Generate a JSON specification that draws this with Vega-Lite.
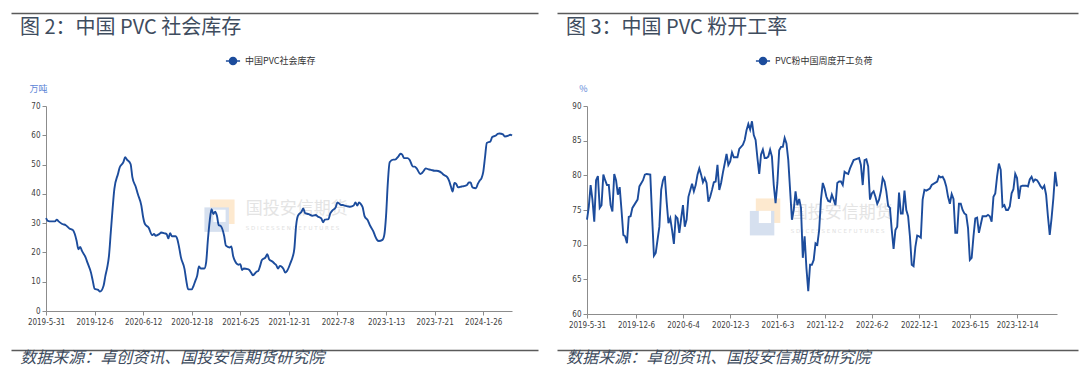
{
  "$schema": "https://vega.github.io/schema/vega-lite/v6.json",
  "padding": {"left": 8, "top": 10, "right": 0, "bottom": 0},
  "background": "white",
  "config": {
    "view": {"stroke": null},
    "font": "Noto Sans CJK SC",
    "axis": {"labelFont": "Liberation Sans Narrow, DejaVu Sans Condensed, sans-serif", "labelFontSize": 8, "labelColor": "#404040", "domainColor": "#8c8c8c", "tickColor": "#8c8c8c", "grid": false, "labelOverlap": false}
  },
  "resolve": {"scale": {"x": "independent", "y": "independent", "color": "independent"}, "legend": {"color": "independent"}, "axis": {"x": "independent", "y": "independent"}},
  "datasets": {
    "left": [
      {"d":"2019-05-31","v":31.7},{"d":"2019-06-07","v":30.8},{"d":"2019-06-21","v":30.6},{"d":"2019-07-05","v":30.6},{"d":"2019-07-12","v":31.2},{"d":"2019-07-19","v":30.6},{"d":"2019-08-02","v":29.7},{"d":"2019-08-16","v":29.3},{"d":"2019-08-30","v":28.2},{"d":"2019-09-13","v":27.6},{"d":"2019-09-20","v":26.3},{"d":"2019-09-27","v":24.0},{"d":"2019-10-04","v":21.1},{"d":"2019-10-11","v":21.9},{"d":"2019-10-18","v":20.5},{"d":"2019-11-01","v":18.3},{"d":"2019-11-08","v":16.6},{"d":"2019-11-22","v":13.1},{"d":"2019-11-29","v":10.3},{"d":"2019-12-06","v":7.6},{"d":"2019-12-20","v":7.2},{"d":"2019-12-27","v":6.6},
      {"d":"2020-01-10","v":8.6},{"d":"2020-01-17","v":12.0},{"d":"2020-01-24","v":14.8},{"d":"2020-01-31","v":18.8},{"d":"2020-02-07","v":26.8},{"d":"2020-02-14","v":34.8},{"d":"2020-02-21","v":41.7},{"d":"2020-03-06","v":46.8},{"d":"2020-03-13","v":49.1},{"d":"2020-03-27","v":50.8},{"d":"2020-04-03","v":52.5},{"d":"2020-04-10","v":51.7},{"d":"2020-04-24","v":50.2},{"d":"2020-05-01","v":45.7},{"d":"2020-05-15","v":42.2},{"d":"2020-05-22","v":40.0},{"d":"2020-06-05","v":36.0},{"d":"2020-06-12","v":32.0},{"d":"2020-06-19","v":29.7},{"d":"2020-07-03","v":28.5},{"d":"2020-07-17","v":25.9},{"d":"2020-07-24","v":26.3},{"d":"2020-07-31","v":25.7},{"d":"2020-08-14","v":26.3},{"d":"2020-08-21","v":26.8},{"d":"2020-09-04","v":26.5},{"d":"2020-09-11","v":26.3},{"d":"2020-09-18","v":24.8},{"d":"2020-09-25","v":26.6},{"d":"2020-10-02","v":25.5},{"d":"2020-10-16","v":25.5},{"d":"2020-10-23","v":24.5},{"d":"2020-10-30","v":21.7},{"d":"2020-11-06","v":18.3},{"d":"2020-11-20","v":14.3},{"d":"2020-11-27","v":10.3},{"d":"2020-12-04","v":7.4},{"d":"2020-12-18","v":7.4},{"d":"2020-12-25","v":8.6},
      {"d":"2021-01-01","v":10.3},{"d":"2021-01-08","v":12.0},{"d":"2021-01-15","v":15.2},{"d":"2021-01-22","v":14.5},{"d":"2021-02-05","v":14.5},{"d":"2021-02-12","v":16.6},{"d":"2021-02-19","v":24.5},{"d":"2021-02-26","v":30.8},{"d":"2021-03-05","v":34.8},{"d":"2021-03-12","v":33.1},{"d":"2021-03-19","v":33.9},{"d":"2021-03-26","v":32.5},{"d":"2021-04-02","v":29.3},{"d":"2021-04-09","v":29.1},{"d":"2021-04-23","v":25.7},{"d":"2021-04-30","v":22.3},{"d":"2021-05-14","v":21.7},{"d":"2021-05-21","v":22.0},{"d":"2021-05-28","v":18.8},{"d":"2021-06-04","v":17.1},{"d":"2021-06-18","v":15.8},{"d":"2021-06-25","v":16.0},{"d":"2021-07-02","v":14.0},{"d":"2021-07-09","v":14.5},{"d":"2021-07-23","v":14.3},{"d":"2021-07-30","v":14.0},{"d":"2021-08-06","v":13.1},{"d":"2021-08-13","v":12.2},{"d":"2021-08-27","v":13.4},{"d":"2021-09-03","v":13.7},{"d":"2021-09-10","v":15.4},{"d":"2021-09-17","v":17.4},{"d":"2021-10-01","v":18.3},{"d":"2021-10-08","v":19.4},{"d":"2021-10-15","v":17.7},{"d":"2021-10-29","v":16.8},{"d":"2021-11-05","v":16.2},{"d":"2021-11-12","v":15.6},{"d":"2021-11-19","v":14.5},{"d":"2021-11-26","v":15.4},{"d":"2021-12-03","v":15.1},{"d":"2021-12-10","v":14.3},{"d":"2021-12-17","v":13.1},{"d":"2021-12-24","v":13.7},
      {"d":"2022-01-07","v":16.6},{"d":"2022-01-14","v":18.3},{"d":"2022-01-21","v":21.1},{"d":"2022-01-28","v":29.1},{"d":"2022-02-04","v":32.5},{"d":"2022-02-18","v":33.9},{"d":"2022-02-25","v":35.0},{"d":"2022-03-04","v":33.4},{"d":"2022-03-18","v":33.1},{"d":"2022-04-01","v":32.5},{"d":"2022-04-15","v":32.8},{"d":"2022-04-22","v":32.3},{"d":"2022-05-06","v":31.6},{"d":"2022-05-13","v":30.3},{"d":"2022-05-20","v":31.2},{"d":"2022-06-03","v":31.4},{"d":"2022-06-10","v":33.3},{"d":"2022-06-17","v":34.2},{"d":"2022-07-01","v":35.4},{"d":"2022-07-08","v":37.1},{"d":"2022-07-22","v":36.2},{"d":"2022-07-29","v":36.2},{"d":"2022-08-05","v":36.0},{"d":"2022-08-19","v":35.7},{"d":"2022-08-26","v":35.6},{"d":"2022-09-09","v":36.0},{"d":"2022-09-16","v":37.1},{"d":"2022-09-23","v":36.0},{"d":"2022-09-30","v":37.1},{"d":"2022-10-07","v":36.5},{"d":"2022-10-14","v":35.4},{"d":"2022-10-21","v":32.5},{"d":"2022-11-04","v":30.8},{"d":"2022-11-11","v":29.3},{"d":"2022-11-25","v":27.1},{"d":"2022-12-02","v":25.5},{"d":"2022-12-09","v":24.3},{"d":"2022-12-16","v":23.9},{"d":"2022-12-30","v":24.3},
      {"d":"2023-01-06","v":25.9},{"d":"2023-01-13","v":32.5},{"d":"2023-01-20","v":43.9},{"d":"2023-01-27","v":50.8},{"d":"2023-02-10","v":51.7},{"d":"2023-02-17","v":51.7},{"d":"2023-03-03","v":52.9},{"d":"2023-03-10","v":53.7},{"d":"2023-03-17","v":53.4},{"d":"2023-03-24","v":52.2},{"d":"2023-04-07","v":52.2},{"d":"2023-04-14","v":51.7},{"d":"2023-04-28","v":49.3},{"d":"2023-05-05","v":49.3},{"d":"2023-05-12","v":48.7},{"d":"2023-05-26","v":46.8},{"d":"2023-06-02","v":47.1},{"d":"2023-06-09","v":47.9},{"d":"2023-06-16","v":48.7},{"d":"2023-06-30","v":48.3},{"d":"2023-07-07","v":48.2},{"d":"2023-07-21","v":47.9},{"d":"2023-07-28","v":47.9},{"d":"2023-08-04","v":47.8},{"d":"2023-08-18","v":47.1},{"d":"2023-08-25","v":46.5},{"d":"2023-09-08","v":45.7},{"d":"2023-09-15","v":44.5},{"d":"2023-09-22","v":42.6},{"d":"2023-09-29","v":40.8},{"d":"2023-10-06","v":43.7},{"d":"2023-10-13","v":43.4},{"d":"2023-10-20","v":42.2},{"d":"2023-11-03","v":42.5},{"d":"2023-11-10","v":42.6},{"d":"2023-11-24","v":43.0},{"d":"2023-12-01","v":43.9},{"d":"2023-12-08","v":43.9},{"d":"2023-12-15","v":42.2},{"d":"2023-12-29","v":41.9},
      {"d":"2024-01-05","v":43.4},{"d":"2024-01-12","v":44.5},{"d":"2024-01-19","v":45.3},{"d":"2024-01-26","v":47.4},{"d":"2024-02-02","v":52.5},{"d":"2024-02-09","v":57.4},{"d":"2024-02-23","v":57.9},{"d":"2024-03-01","v":59.4},{"d":"2024-03-15","v":59.9},{"d":"2024-03-22","v":60.5},{"d":"2024-03-29","v":60.6},{"d":"2024-04-12","v":60.3},{"d":"2024-04-19","v":59.6},{"d":"2024-05-03","v":59.9},{"d":"2024-05-10","v":60.2},{"d":"2024-05-17","v":59.9}
    ],
    "right": [
      {"d":"2019-05-31","v":73.6},{"d":"2019-06-07","v":75.5},{"d":"2019-06-14","v":78.6},{"d":"2019-06-21","v":76.5},{"d":"2019-06-28","v":73.3},{"d":"2019-07-05","v":79.3},{"d":"2019-07-12","v":79.9},{"d":"2019-07-19","v":75.3},{"d":"2019-07-26","v":75.7},{"d":"2019-08-02","v":80.1},{"d":"2019-08-09","v":79.3},{"d":"2019-08-16","v":78.6},{"d":"2019-08-23","v":78.6},{"d":"2019-08-30","v":75.7},{"d":"2019-09-06","v":74.8},{"d":"2019-09-13","v":80.2},{"d":"2019-09-20","v":79.3},{"d":"2019-09-27","v":77.2},{"d":"2019-10-04","v":78.3},{"d":"2019-10-11","v":75.0},{"d":"2019-10-18","v":71.4},{"d":"2019-10-25","v":71.2},{"d":"2019-11-01","v":70.2},{"d":"2019-11-08","v":74.0},{"d":"2019-11-15","v":74.1},{"d":"2019-11-22","v":75.3},{"d":"2019-12-12","v":76.5},{"d":"2019-12-19","v":78.4},
      {"d":"2020-01-02","v":79.3},{"d":"2020-01-09","v":80.1},{"d":"2020-01-16","v":80.2},{"d":"2020-01-30","v":80.1},{"d":"2020-02-06","v":74.1},{"d":"2020-02-13","v":68.4},{"d":"2020-02-20","v":68.8},{"d":"2020-03-05","v":72.6},{"d":"2020-03-12","v":77.9},{"d":"2020-03-19","v":79.3},{"d":"2020-03-26","v":79.9},{"d":"2020-04-02","v":76.2},{"d":"2020-04-09","v":73.1},{"d":"2020-04-16","v":73.8},{"d":"2020-04-23","v":72.1},{"d":"2020-04-30","v":70.1},{"d":"2020-05-07","v":74.1},{"d":"2020-05-14","v":73.8},{"d":"2020-05-21","v":71.7},{"d":"2020-05-28","v":73.8},{"d":"2020-06-04","v":75.7},{"d":"2020-06-11","v":72.6},{"d":"2020-06-18","v":73.6},{"d":"2020-06-25","v":76.9},{"d":"2020-07-09","v":78.8},{"d":"2020-07-16","v":77.7},{"d":"2020-07-23","v":78.6},{"d":"2020-07-30","v":80.1},{"d":"2020-08-06","v":81.0},{"d":"2020-08-13","v":80.1},{"d":"2020-08-20","v":79.0},{"d":"2020-08-27","v":79.6},{"d":"2020-09-03","v":78.9},{"d":"2020-09-10","v":76.2},{"d":"2020-09-17","v":76.9},{"d":"2020-09-24","v":77.9},{"d":"2020-10-01","v":79.0},{"d":"2020-10-08","v":79.1},{"d":"2020-10-15","v":81.5},{"d":"2020-10-22","v":77.9},{"d":"2020-10-29","v":78.9},{"d":"2020-11-05","v":80.4},{"d":"2020-11-12","v":81.7},{"d":"2020-11-19","v":83.1},{"d":"2020-11-26","v":81.5},{"d":"2020-12-03","v":82.0},{"d":"2020-12-10","v":83.3},{"d":"2020-12-17","v":82.6},{"d":"2020-12-24","v":82.6},{"d":"2020-12-31","v":82.6},
      {"d":"2021-01-07","v":83.8},{"d":"2021-01-21","v":84.4},{"d":"2021-01-28","v":85.1},{"d":"2021-02-04","v":86.5},{"d":"2021-02-11","v":87.4},{"d":"2021-02-18","v":86.6},{"d":"2021-02-25","v":87.8},{"d":"2021-03-04","v":85.8},{"d":"2021-03-11","v":85.1},{"d":"2021-03-18","v":82.5},{"d":"2021-03-25","v":80.2},{"d":"2021-04-01","v":83.0},{"d":"2021-04-08","v":83.7},{"d":"2021-04-15","v":82.5},{"d":"2021-04-22","v":82.5},{"d":"2021-04-29","v":82.7},{"d":"2021-05-06","v":83.7},{"d":"2021-05-13","v":82.7},{"d":"2021-05-20","v":78.6},{"d":"2021-05-27","v":76.0},{"d":"2021-06-03","v":78.9},{"d":"2021-06-10","v":83.6},{"d":"2021-06-17","v":84.1},{"d":"2021-06-24","v":84.1},{"d":"2021-07-01","v":85.4},{"d":"2021-07-08","v":84.6},{"d":"2021-07-15","v":82.2},{"d":"2021-07-22","v":77.9},{"d":"2021-07-29","v":73.6},{"d":"2021-08-05","v":75.0},{"d":"2021-08-12","v":77.7},{"d":"2021-08-19","v":75.7},{"d":"2021-08-26","v":76.6},{"d":"2021-09-02","v":75.3},{"d":"2021-09-09","v":68.1},{"d":"2021-09-16","v":71.2},{"d":"2021-09-23","v":66.6},{"d":"2021-09-30","v":63.3},{"d":"2021-10-07","v":67.1},{"d":"2021-10-14","v":67.1},{"d":"2021-10-21","v":67.8},{"d":"2021-10-28","v":70.2},{"d":"2021-11-04","v":70.0},{"d":"2021-11-11","v":72.1},{"d":"2021-11-18","v":76.5},{"d":"2021-11-25","v":78.9},{"d":"2021-12-02","v":78.1},{"d":"2021-12-09","v":76.9},{"d":"2021-12-16","v":76.3},{"d":"2021-12-23","v":76.2},{"d":"2021-12-30","v":77.2},
      {"d":"2022-01-06","v":76.5},{"d":"2022-01-13","v":75.7},{"d":"2022-01-20","v":78.9},{"d":"2022-01-27","v":79.1},{"d":"2022-02-03","v":79.1},{"d":"2022-02-10","v":78.6},{"d":"2022-02-17","v":80.5},{"d":"2022-02-24","v":80.3},{"d":"2022-03-03","v":80.2},{"d":"2022-03-10","v":81.0},{"d":"2022-03-24","v":82.2},{"d":"2022-03-31","v":82.3},{"d":"2022-04-14","v":82.5},{"d":"2022-04-21","v":81.5},{"d":"2022-04-28","v":78.6},{"d":"2022-05-05","v":82.2},{"d":"2022-05-12","v":82.3},{"d":"2022-05-19","v":81.3},{"d":"2022-05-26","v":76.5},{"d":"2022-06-02","v":77.4},{"d":"2022-06-09","v":77.7},{"d":"2022-06-16","v":76.9},{"d":"2022-06-23","v":75.9},{"d":"2022-06-30","v":76.5},{"d":"2022-07-07","v":77.7},{"d":"2022-07-14","v":79.6},{"d":"2022-07-21","v":79.1},{"d":"2022-07-28","v":77.7},{"d":"2022-08-04","v":75.6},{"d":"2022-08-11","v":75.3},{"d":"2022-08-18","v":72.1},{"d":"2022-08-25","v":69.4},{"d":"2022-09-01","v":72.1},{"d":"2022-09-08","v":72.6},{"d":"2022-09-15","v":77.5},{"d":"2022-09-22","v":74.5},{"d":"2022-09-29","v":74.5},{"d":"2022-10-06","v":77.8},{"d":"2022-10-13","v":75.0},{"d":"2022-10-20","v":74.1},{"d":"2022-10-27","v":71.2},{"d":"2022-11-03","v":67.1},{"d":"2022-11-10","v":66.9},{"d":"2022-11-17","v":69.7},{"d":"2022-11-24","v":71.3},{"d":"2022-12-01","v":71.2},{"d":"2022-12-08","v":71.0},{"d":"2022-12-15","v":76.5},{"d":"2022-12-22","v":77.9},{"d":"2022-12-29","v":77.8},
      {"d":"2023-01-12","v":78.1},{"d":"2023-01-19","v":78.6},{"d":"2023-02-09","v":79.1},{"d":"2023-02-16","v":79.9},{"d":"2023-02-23","v":79.7},{"d":"2023-03-02","v":79.8},{"d":"2023-03-09","v":79.3},{"d":"2023-03-16","v":78.4},{"d":"2023-03-23","v":76.9},{"d":"2023-03-30","v":75.9},{"d":"2023-04-06","v":77.3},{"d":"2023-04-13","v":76.6},{"d":"2023-04-20","v":71.7},{"d":"2023-04-27","v":71.7},{"d":"2023-05-04","v":75.9},{"d":"2023-05-11","v":75.9},{"d":"2023-05-18","v":75.0},{"d":"2023-05-25","v":74.5},{"d":"2023-06-01","v":74.3},{"d":"2023-06-08","v":72.4},{"d":"2023-06-15","v":67.8},{"d":"2023-06-22","v":68.1},{"d":"2023-06-29","v":71.2},{"d":"2023-07-06","v":73.8},{"d":"2023-07-13","v":73.9},{"d":"2023-07-20","v":71.7},{"d":"2023-07-27","v":72.9},{"d":"2023-08-03","v":74.1},{"d":"2023-08-10","v":74.1},{"d":"2023-08-17","v":74.1},{"d":"2023-08-24","v":74.3},{"d":"2023-08-31","v":74.1},{"d":"2023-09-07","v":73.3},{"d":"2023-09-14","v":76.9},{"d":"2023-09-21","v":77.4},{"d":"2023-09-28","v":79.8},{"d":"2023-10-05","v":81.7},{"d":"2023-10-12","v":80.8},{"d":"2023-10-19","v":75.5},{"d":"2023-10-26","v":75.7},{"d":"2023-11-02","v":75.0},{"d":"2023-11-09","v":75.0},{"d":"2023-11-16","v":75.5},{"d":"2023-11-23","v":77.4},{"d":"2023-11-30","v":78.0},{"d":"2023-12-07","v":80.2},{"d":"2023-12-14","v":79.6},{"d":"2023-12-21","v":76.6},{"d":"2023-12-28","v":78.4},
      {"d":"2024-01-04","v":78.5},{"d":"2024-01-18","v":78.5},{"d":"2024-01-25","v":78.4},{"d":"2024-02-01","v":79.4},{"d":"2024-02-08","v":79.8},{"d":"2024-02-15","v":79.1},{"d":"2024-02-22","v":79.4},{"d":"2024-02-29","v":79.3},{"d":"2024-03-07","v":78.9},{"d":"2024-03-14","v":78.4},{"d":"2024-03-21","v":78.1},{"d":"2024-03-28","v":78.5},{"d":"2024-04-04","v":77.2},{"d":"2024-04-11","v":74.1},{"d":"2024-04-18","v":71.4},{"d":"2024-04-25","v":73.8},{"d":"2024-05-02","v":76.7},{"d":"2024-05-09","v":80.5},{"d":"2024-05-16","v":78.4}
    ]
  },
  "spacing": -19,
  "hconcat": [
    {
      "spacing": 1,
      "resolve": {"scale": {"x": "independent", "y": "independent", "color": "independent"}, "legend": {"color": "independent"}},
      "vconcat": [
        {
          "width": 492, "height": 1,
          "data": {"values": [{"a": 0}]},
          "mark": {"type": "point", "opacity": 0},
          "encoding": {"x": {"field": "a", "type": "quantitative", "scale": {"domain": [0, 1], "range": [-35, 492]}, "axis": {"orient": "top", "domainColor": "#5a5a5a", "domainWidth": 1.5, "ticks": false, "labels": false, "title": null}}}
        },
        {
          "width": 466, "height": 205,
          "title": {"text": "图 2：中国 PVC 社会库存", "anchor": "start", "dx": 9, "fontSize": 20, "fontWeight": "normal", "color": "#3e4c5e", "offset": 15},
          "layer": [
            {
              "data": {"values": [{}]},
              "mark": {"type": "point", "shape": "square", "filled": true, "size": 600, "color": "#fde9cf", "opacity": 1},
              "encoding": {"x": {"datum": {"year": 2021, "month": 4, "date": 16, "utc": true}, "type": "temporal"},
                "y": {"datum": 33.9, "type": "quantitative", "axis": {"values": [0,10,20,30,40,50,60,70], "labelOverlap": false, "title": "万吨", "titleAngle": 0, "titleAlign": "center", "titleBaseline": "middle", "titleX": -8, "titleY": -18, "titleColor": "#5b84d6", "titleFontSize": 9, "titleFontWeight": "normal", "tickSize": 4, "labelPadding": 2, "minExtent": 35}}}
            },
            {
              "data": {"values": [{}]},
              "mark": {"type": "point", "shape": "square", "filled": true, "size": 600, "color": "#d6e0ef", "opacity": 1},
              "encoding": {"x": {"datum": {"year": 2021, "month": 3, "date": 25, "utc": true}, "type": "temporal"},
                "y": {"datum": 31.2, "type": "quantitative", "axis": {"values": [0,10,20,30,40,50,60,70], "labelOverlap": false, "title": "万吨", "titleAngle": 0, "titleAlign": "center", "titleBaseline": "middle", "titleX": -8, "titleY": -18, "titleColor": "#5b84d6", "titleFontSize": 9, "titleFontWeight": "normal", "tickSize": 4, "labelPadding": 2, "minExtent": 35}}}
            },
            {
              "data": {"values": [{}]},
              "mark": {"type": "point", "shape": "square", "filled": true, "size": 150, "color": "#ffffff", "opacity": 1},
              "encoding": {"x": {"datum": {"year": 2021, "month": 4, "date": 5, "utc": true}, "type": "temporal"},
                "y": {"datum": 32.5, "type": "quantitative", "axis": {"values": [0,10,20,30,40,50,60,70], "labelOverlap": false, "title": "万吨", "titleAngle": 0, "titleAlign": "center", "titleBaseline": "middle", "titleX": -8, "titleY": -18, "titleColor": "#5b84d6", "titleFontSize": 9, "titleFontWeight": "normal", "tickSize": 4, "labelPadding": 2, "minExtent": 35}}}
            },
            {
              "data": {"values": [{}]},
              "mark": {"type": "text", "text": "国投安信期货", "fontSize": 17, "color": "#e4e4e4", "align": "left", "baseline": "middle"},
              "encoding": {"x": {"datum": {"year": 2021, "month": 7, "date": 16, "utc": true}, "type": "temporal"},
                "y": {"datum": 34.9, "type": "quantitative", "axis": {"values": [0,10,20,30,40,50,60,70], "labelOverlap": false, "title": "万吨", "titleAngle": 0, "titleAlign": "center", "titleBaseline": "middle", "titleX": -8, "titleY": -18, "titleColor": "#5b84d6", "titleFontSize": 9, "titleFontWeight": "normal", "tickSize": 4, "labelPadding": 2, "minExtent": 35}}}
            },
            {
              "data": {"values": [{}]},
              "mark": {"type": "text", "text": "S D I C   E S S E N C E   F U T U R E S", "fontSize": 5.5, "color": "#e0e0e0", "align": "left", "baseline": "middle", "font": "DejaVu Sans"},
              "encoding": {"x": {"datum": {"year": 2021, "month": 7, "date": 16, "utc": true}, "type": "temporal"},
                "y": {"datum": 28.3, "type": "quantitative", "axis": {"values": [0,10,20,30,40,50,60,70], "labelOverlap": false, "title": "万吨", "titleAngle": 0, "titleAlign": "center", "titleBaseline": "middle", "titleX": -8, "titleY": -18, "titleColor": "#5b84d6", "titleFontSize": 9, "titleFontWeight": "normal", "tickSize": 4, "labelPadding": 2, "minExtent": 35}}}
            },
            {
              "data": {"name": "left"},
              "transform": [{"calculate": "'中国PVC社会库存'", "as": "s"}],
              "mark": {"type": "line", "strokeWidth": 1.9, "interpolate": "monotone"},
              "encoding": {
                "x": {"field": "d", "type": "temporal", "scale": {"type": "utc"},
                  "axis": {"values": [{"year":2019,"month":5,"date":31,"utc":true},{"year":2019,"month":12,"date":6,"utc":true},{"year":2020,"month":6,"date":12,"utc":true},{"year":2020,"month":12,"date":18,"utc":true},{"year":2021,"month":6,"date":25,"utc":true},{"year":2021,"month":12,"date":31,"utc":true},{"year":2022,"month":7,"date":8,"utc":true},{"year":2023,"month":1,"date":13,"utc":true},{"year":2023,"month":7,"date":21,"utc":true},{"year":2024,"month":1,"date":26,"utc":true}],
                    "format": "%Y-%-m-%-d", "title": null, "tickSize": 4, "labelPadding": 3, "labelFlush": false, "labelOverlap": false, "minExtent": 35}},
                "y": {"field": "v", "type": "quantitative", "scale": {"domain": [0, 70]},
                  "axis": {"values": [0,10,20,30,40,50,60,70], "labelOverlap": false, "title": "万吨", "titleAngle": 0, "titleAlign": "center", "titleBaseline": "middle", "titleX": -8, "titleY": -18, "titleColor": "#5b84d6", "titleFontSize": 9, "titleFontWeight": "normal", "tickSize": 4, "labelPadding": 2, "minExtent": 35}},
                "color": {"field": "s", "type": "nominal", "scale": {"range": ["#1c4c9c"]},
                  "legend": {"orient": "none", "legendX": 179, "legendY": -53, "title": null, "symbolType": "M -1 0 L -0.5 0 M 1 0 L 0.5 0 M 0.5 0 A 0.5 0.5 0 1 1 -0.5 0 A 0.5 0.5 0 1 1 0.5 0 Z", "symbolSize": 200, "symbolStrokeWidth": 1.5, "labelFontSize": 9, "labelColor": "#333333", "encode": {"symbols": {"update": {"fill": {"value": "#1c4c9c"}}}}}}
              }
            }
          ]
        },
        {
          "width": 492, "height": 1,
          "title": {"text": "数据来源：卓创资讯、国投安信期货研究院", "orient": "bottom", "anchor": "start", "dx": 12, "fontSize": 16, "fontStyle": "italic", "fontWeight": "normal", "color": "#3e4c5e", "offset": -3},
          "data": {"values": [{"a": 0}]},
          "mark": {"type": "point", "opacity": 0},
          "encoding": {"x": {"field": "a", "type": "quantitative", "scale": {"domain": [0, 1], "range": [-35, 492]}, "axis": {"orient": "top", "domainColor": "#5a5a5a", "domainWidth": 1.5, "ticks": false, "labels": false, "title": null}}}
        }
      ]
    },
    {
      "spacing": 1,
      "resolve": {"scale": {"x": "independent", "y": "independent", "color": "independent"}, "legend": {"color": "independent"}},
      "vconcat": [
        {
          "width": 491, "height": 1,
          "data": {"values": [{"a": 0}]},
          "mark": {"type": "point", "opacity": 0},
          "encoding": {"x": {"field": "a", "type": "quantitative", "scale": {"domain": [0, 1], "range": [-30, 491]}, "axis": {"orient": "top", "domainColor": "#5a5a5a", "domainWidth": 1.5, "ticks": false, "labels": false, "title": null}}}
        },
        {
          "width": 470, "height": 208,
          "title": {"text": "图 3：中国 PVC 粉开工率", "anchor": "start", "dx": 9, "fontSize": 20, "fontWeight": "normal", "color": "#3e4c5e", "offset": 15},
          "layer": [
            {
              "data": {"values": [{}]},
              "mark": {"type": "point", "shape": "square", "filled": true, "size": 600, "color": "#fde9cf", "opacity": 1},
              "encoding": {"x": {"datum": {"year": 2021, "month": 4, "date": 28, "utc": true}, "type": "temporal"},
                "y": {"datum": 74.9, "type": "quantitative", "scale": {"domain": [60, 90]}, "axis": {"values": [60,65,70,75,80,85,90], "labelOverlap": false, "title": "%", "titleAngle": 0, "titleAlign": "center", "titleBaseline": "middle", "titleX": -4, "titleY": -18, "titleColor": "#5b84d6", "titleFontSize": 9, "titleFontWeight": "normal", "tickSize": 4, "labelPadding": 2, "minExtent": 30}}}
            },
            {
              "data": {"values": [{}]},
              "mark": {"type": "point", "shape": "square", "filled": true, "size": 600, "color": "#d6e0ef", "opacity": 1},
              "encoding": {"x": {"datum": {"year": 2021, "month": 4, "date": 5, "utc": true}, "type": "temporal"},
                "y": {"datum": 73.1, "type": "quantitative", "scale": {"domain": [60, 90]}, "axis": {"values": [60,65,70,75,80,85,90], "labelOverlap": false, "title": "%", "titleAngle": 0, "titleAlign": "center", "titleBaseline": "middle", "titleX": -4, "titleY": -18, "titleColor": "#5b84d6", "titleFontSize": 9, "titleFontWeight": "normal", "tickSize": 4, "labelPadding": 2, "minExtent": 30}}}
            },
            {
              "data": {"values": [{}]},
              "mark": {"type": "point", "shape": "square", "filled": true, "size": 150, "color": "#ffffff", "opacity": 1},
              "encoding": {"x": {"datum": {"year": 2021, "month": 4, "date": 16, "utc": true}, "type": "temporal"},
                "y": {"datum": 74.0, "type": "quantitative", "scale": {"domain": [60, 90]}, "axis": {"values": [60,65,70,75,80,85,90], "labelOverlap": false, "title": "%", "titleAngle": 0, "titleAlign": "center", "titleBaseline": "middle", "titleX": -4, "titleY": -18, "titleColor": "#5b84d6", "titleFontSize": 9, "titleFontWeight": "normal", "tickSize": 4, "labelPadding": 2, "minExtent": 30}}}
            },
            {
              "data": {"values": [{}]},
              "mark": {"type": "text", "text": "国投安信期货", "fontSize": 17, "color": "#e4e4e4", "align": "left", "baseline": "middle"},
              "encoding": {"x": {"datum": {"year": 2021, "month": 7, "date": 25, "utc": true}, "type": "temporal"},
                "y": {"datum": 74.6, "type": "quantitative", "scale": {"domain": [60, 90]}, "axis": {"values": [60,65,70,75,80,85,90], "labelOverlap": false, "title": "%", "titleAngle": 0, "titleAlign": "center", "titleBaseline": "middle", "titleX": -4, "titleY": -18, "titleColor": "#5b84d6", "titleFontSize": 9, "titleFontWeight": "normal", "tickSize": 4, "labelPadding": 2, "minExtent": 30}}}
            },
            {
              "data": {"values": [{}]},
              "mark": {"type": "text", "text": "S D I C   E S S E N C E   F U T U R E S", "fontSize": 5.5, "color": "#e0e0e0", "align": "left", "baseline": "middle", "font": "DejaVu Sans"},
              "encoding": {"x": {"datum": {"year": 2021, "month": 7, "date": 25, "utc": true}, "type": "temporal"},
                "y": {"datum": 71.9, "type": "quantitative", "scale": {"domain": [60, 90]}, "axis": {"values": [60,65,70,75,80,85,90], "labelOverlap": false, "title": "%", "titleAngle": 0, "titleAlign": "center", "titleBaseline": "middle", "titleX": -4, "titleY": -18, "titleColor": "#5b84d6", "titleFontSize": 9, "titleFontWeight": "normal", "tickSize": 4, "labelPadding": 2, "minExtent": 30}}}
            },
            {
              "data": {"name": "right"},
              "transform": [{"calculate": "'PVC粉中国周度开工负荷'", "as": "s"}],
              "mark": {"type": "line", "strokeWidth": 1.9},
              "encoding": {
                "x": {"field": "d", "type": "temporal", "scale": {"type": "utc"},
                  "axis": {"values": [{"year":2019,"month":5,"date":31,"utc":true},{"year":2019,"month":12,"date":6,"utc":true},{"year":2020,"month":6,"date":4,"utc":true},{"year":2020,"month":12,"date":3,"utc":true},{"year":2021,"month":6,"date":3,"utc":true},{"year":2021,"month":12,"date":2,"utc":true},{"year":2022,"month":6,"date":2,"utc":true},{"year":2022,"month":12,"date":1,"utc":true},{"year":2023,"month":6,"date":15,"utc":true},{"year":2023,"month":12,"date":14,"utc":true}],
                    "format": "%Y-%-m-%-d", "title": null, "tickSize": 4, "labelPadding": 3, "labelFlush": false, "labelOverlap": false, "minExtent": 32}},
                "y": {"field": "v", "type": "quantitative", "scale": {"domain": [60, 90]},
                  "axis": {"values": [60,65,70,75,80,85,90], "labelOverlap": false, "title": "%", "titleAngle": 0, "titleAlign": "center", "titleBaseline": "middle", "titleX": -4, "titleY": -18, "titleColor": "#5b84d6", "titleFontSize": 9, "titleFontWeight": "normal", "tickSize": 4, "labelPadding": 2, "minExtent": 30}},
                "color": {"field": "s", "type": "nominal", "scale": {"range": ["#1c4c9c"]},
                  "legend": {"orient": "none", "legendX": 168, "legendY": -53, "title": null, "symbolType": "M -1 0 L -0.5 0 M 1 0 L 0.5 0 M 0.5 0 A 0.5 0.5 0 1 1 -0.5 0 A 0.5 0.5 0 1 1 0.5 0 Z", "symbolSize": 200, "symbolStrokeWidth": 1.5, "labelFontSize": 9, "labelColor": "#333333", "encode": {"symbols": {"update": {"fill": {"value": "#1c4c9c"}}}}}}
              }
            }
          ]
        },
        {
          "width": 491, "height": 1,
          "title": {"text": "数据来源：卓创资讯、国投安信期货研究院", "orient": "bottom", "anchor": "start", "dx": 12, "fontSize": 16, "fontStyle": "italic", "fontWeight": "normal", "color": "#3e4c5e", "offset": -3},
          "data": {"values": [{"a": 0}]},
          "mark": {"type": "point", "opacity": 0},
          "encoding": {"x": {"field": "a", "type": "quantitative", "scale": {"domain": [0, 1], "range": [-30, 491]}, "axis": {"orient": "top", "domainColor": "#5a5a5a", "domainWidth": 1.5, "ticks": false, "labels": false, "title": null}}}
        }
      ]
    }
  ]
}
